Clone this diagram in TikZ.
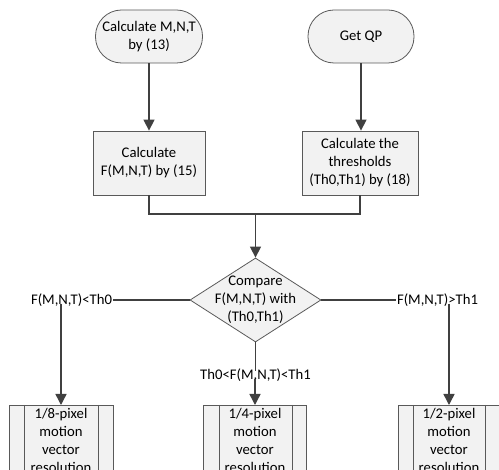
\documentclass[tikz,border=0pt]{standalone}
\usepackage{fontspec}
\setmainfont{Carlito}
\usetikzlibrary{arrows.meta,shapes.geometric}
\definecolor{edge}{HTML}{404040}
\definecolor{bord}{HTML}{595959}
\definecolor{boxfill}{HTML}{F2F2F2}
\tikzset{
  base/.style={draw=bord, line width=0.8pt, fill=boxfill, align=center, inner sep=0pt,
    font=\fontsize{14.7}{18}\selectfont},
  term/.style={base, rounded corners=26pt, minimum height=53pt},
  procbox/.style={base, minimum height=64pt},
  predef/.style={base, minimum height=70pt, text width=70pt, anchor=north},
  decide/.style={draw=bord, line width=0.8pt, fill=boxfill, diamond, minimum width=131pt, minimum height=84pt, inner sep=0pt, aspect=1.56},
  txt/.style={inner sep=0pt, align=center, font=\fontsize{14.7}{18}\selectfont},
  conn/.style={draw=edge, line width=1.5pt},
  arr/.style={conn, -{Triangle[length=11pt,width=11pt]}}
}
\begin{document}
\begin{tikzpicture}[x=1pt,y=-1pt]
\useasboundingbox (0,0) rectangle (499,470);
\clip (0,0) rectangle (499,470);
\node[term, minimum width=107pt] (t1) at (149,36.5) {Calculate M,N,T\\by (13)};
\node[term, minimum width=106pt] (t2) at (361,36.5) {Get QP};
\node[procbox, minimum width=112pt] (b1) at (149,163) {Calculate\\F(M,N,T) by (15)};
\node[procbox, minimum width=116pt] (b2) at (360,163) {Calculate the\\thresholds\\(Th0,Th1) by (18)};
\node[decide] (d) at (255.5,300) {};
\node[txt] (dt) at (d.center) {Compare\\F(M,N,T) with\\(Th0,Th1)};
\coordinate (j) at (255.5,214);
\node[txt] (lL) at (71.5,300) {F(M,N,T)<Th0};
\node[txt] (lR) at (437.5,300) {F(M,N,T)>Th1};
\node[txt] (lM) at (255.5,375) {Th0<F(M,N,T)<Th1};
\node[predef, minimum width=104pt] (p1) at (61,405) {1/8-pixel\\motion\\vector\\resolution};
\node[predef, minimum width=103pt] (p2) at (255,405) {1/4-pixel\\motion\\vector\\resolution};
\node[predef, minimum width=102pt] (p3) at (449,405) {1/2-pixel\\motion\\vector\\resolution};
\foreach \p in {p1,p2,p3}{
  \draw[draw=bord, line width=0.8pt] ([xshift=16pt]\p.north west) -- ([xshift=16pt]\p.south west);
  \draw[draw=bord, line width=0.8pt] ([xshift=-15pt]\p.north east) -- ([xshift=-15pt]\p.south east);
}
\draw[arr] (t1.south) -- (b1.north);
\draw[arr] (t2.south) -- (t2.south |- b2.north);
\draw[conn] (b1.south) |- (j);
\draw[conn] (b2.south) |- (j);
\draw[arr] (j) -- (d.north);
\draw[conn] (d.west) -- ([xshift=1pt]lL.east);
\draw[conn] (d.east) -- ([xshift=-1pt]lR.west);
\draw[conn] (d.south) -- ([yshift=-3pt]lM.north);
\draw[arr] ([yshift=3pt]lL.south -| p1.north) -- (p1.north);
\draw[arr] ([yshift=3pt]lR.south -| p3.north) -- (p3.north);
\draw[arr] ([yshift=3pt]lM.south -| p2.north) -- (p2.north);
\end{tikzpicture}
\end{document}
